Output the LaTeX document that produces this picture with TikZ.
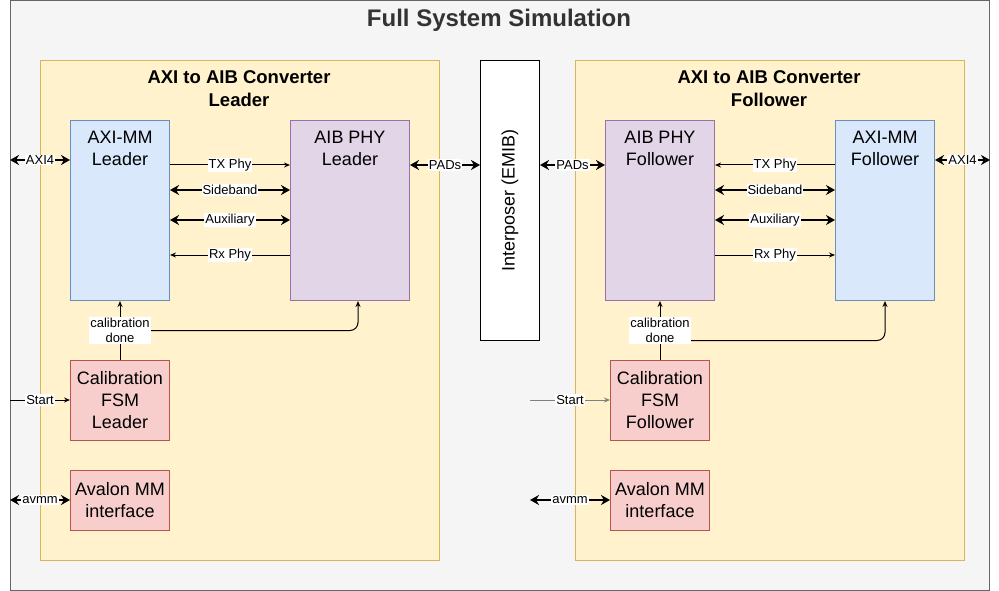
\documentclass[tikz,border=0pt]{standalone}
\usepackage{fontspec}
\setmainfont{Liberation Sans}
\usetikzlibrary{arrows.meta, positioning}
\definecolor{simfill}{HTML}{F5F5F5}
\definecolor{simdraw}{HTML}{666666}
\definecolor{convfill}{HTML}{FFF2CC}
\definecolor{convdraw}{HTML}{D6B656}
\definecolor{axifill}{HTML}{DAE8FC}
\definecolor{axidraw}{HTML}{6C8EBF}
\definecolor{phyfill}{HTML}{E1D5E7}
\definecolor{phydraw}{HTML}{9673A6}
\definecolor{calfill}{HTML}{F8CECC}
\definecolor{caldraw}{HTML}{B85450}
\definecolor{titlegray}{HTML}{333333}
\definecolor{startgray}{HTML}{808080}

\begin{document}
\begin{tikzpicture}[x=1pt, y=-1pt,
  box/.style={draw, line width=1pt, inner sep=0pt, anchor=north west},
  boxtext/.style={align=center, inner sep=0pt, font=\fontsize{18}{22}\selectfont},
  lbl/.style={fill=white, inner sep=1pt, align=center, font=\fontsize{13}{15.5}\selectfont},
  thin/.style={-{Stealth[length=6pt,width=5pt]}, line width=1pt},
  bidir/.style={{Stealth[length=9pt,width=10pt]}-{Stealth[length=9pt,width=10pt]}, line width=1.8pt}]
  \useasboundingbox (0,0) rectangle (999,591);

  % Outer frame and title
  \node[box, fill=simfill, draw=simdraw, minimum width=979pt, minimum height=590pt] (sim) at (10,0) {};
  \node[text=titlegray, font=\fontsize{24}{29}\selectfont\bfseries] (title) at (499,20) {Full System Simulation};

  % Converter blocks
  \node[box, fill=convfill, draw=convdraw, minimum width=399pt, minimum height=500pt] (convl) at (40,60) {};
  \node[box, fill=convfill, draw=convdraw, minimum width=389pt, minimum height=500pt] (convf) at (575,60) {};
  \node[align=center, font=\fontsize{18.5}{23}\selectfont\bfseries] (convltxt) at (239,88.5) {AXI to AIB Converter\\Leader};
  \node[align=center, font=\fontsize{18.5}{23}\selectfont\bfseries] (convftxt) at (769,88.5) {AXI to AIB Converter\\Follower};

  % Interposer
  \node[box, fill=white, draw=black, minimum width=59pt, minimum height=280pt] (emib) at (480,60) {};
  \node[boxtext, rotate=90] (emibtxt) at (emib.center) {Interposer (EMIB)};

  % Leader side
  \node[box, fill=axifill, draw=axidraw, minimum width=99pt, minimum height=180pt] (axil) at (70,120) {};
  \node[boxtext] (axiltxt) at ([yshift=-28pt]axil.north) {AXI-MM\\Leader};
  \node[box, fill=phyfill, draw=phydraw, minimum width=119pt, minimum height=180pt] (phyl) at (290,120) {};
  \node[boxtext] (phyltxt) at ([yshift=-28pt]phyl.north) {AIB PHY\\Leader};
  \node[box, fill=calfill, draw=caldraw, minimum width=99pt, minimum height=80pt] (calfl) at (70,360) {};
  \node[boxtext] (calfltxt) at (calfl.center) {Calibration\\FSM\\Leader};
  \node[box, fill=calfill, draw=caldraw, minimum width=99pt, minimum height=60pt] (avml) at (70,470) {};
  \node[boxtext] (avmltxt) at (avml.center) {Avalon MM\\interface};

  % Follower side
  \node[box, fill=phyfill, draw=phydraw, minimum width=109pt, minimum height=180pt] (phyf) at (605,120) {};
  \node[boxtext] (phyftxt) at ([yshift=-28pt]phyf.north) {AIB PHY\\Follower};
  \node[box, fill=axifill, draw=axidraw, minimum width=99pt, minimum height=180pt] (axif) at (835,120) {};
  \node[boxtext] (axiftxt) at ([yshift=-28pt]axif.north) {AXI-MM\\Follower};
  \node[box, fill=calfill, draw=caldraw, minimum width=99pt, minimum height=80pt] (calff) at (610,360) {};
  \node[boxtext] (calfftxt) at (calff.center) {Calibration\\FSM\\Follower};
  \node[box, fill=calfill, draw=caldraw, minimum width=99pt, minimum height=60pt] (avmf) at (610,470) {};
  \node[boxtext] (avmftxt) at (avmf.center) {Avalon MM\\interface};

  % Signal levels
  \coordinate (yaxi) at (0,160);
  \coordinate (ytx) at (0,165);
  \coordinate (ysb) at (0,190);
  \coordinate (yaux) at (0,220);
  \coordinate (yrx) at (0,255);
  \coordinate (ystart) at (0,400);
  \coordinate (yavm) at (0,500);
  \coordinate (startf) at (530,400);
  \coordinate (avmmf) at (530,500);

  % Leader connections
  \draw[bidir] (sim.west |- yaxi) -- node[lbl] (axi4l) {AXI4} (axil.west |- yaxi);
  \draw[thin] (axil.east |- ytx) -- node[lbl] (txl) {TX Phy} (phyl.west |- ytx);
  \draw[bidir] (axil.east |- ysb) -- node[lbl] (sbl) {Sideband} (phyl.west |- ysb);
  \draw[bidir] (axil.east |- yaux) -- node[lbl] (auxl) {Auxiliary} (phyl.west |- yaux);
  \draw[thin] (phyl.west |- yrx) -- node[lbl] (rxl) {Rx Phy} (axil.east |- yrx);
  \draw[bidir] (phyl.east |- ytx) -- node[lbl] (padl) {PADs} (emib.west |- ytx);
  \draw[thin] (sim.west |- ystart) -- node[lbl] (startl) {Start} (calfl.west |- ystart);
  \draw[bidir] (sim.west |- yavm) -- node[lbl] (avmml) {avmm} (avml.west |- yavm);

  % Leader calibration done
  \coordinate (cpl) at ([xshift=8pt]phyl.south);
  \draw[thin] (calfl.north) -- node[lbl] (cdl) {calibration\\done} (axil.north |- axil.south);
  \draw[thin, rounded corners=8pt] (cdl.east) -- (cdl.east -| cpl) -- (cpl);

  % Follower connections
  \draw[bidir] (emib.east |- ytx) -- node[lbl] (padf) {PADs} (phyf.west |- ytx);
  \draw[thin] (axif.west |- ytx) -- node[lbl] (txf) {TX Phy} (phyf.east |- ytx);
  \draw[bidir] (phyf.east |- ysb) -- node[lbl] (sbf) {Sideband} (axif.west |- ysb);
  \draw[bidir] (phyf.east |- yaux) -- node[lbl] (auxf) {Auxiliary} (axif.west |- yaux);
  \draw[thin] (phyf.east |- yrx) -- node[lbl] (rxf) {Rx Phy} (axif.west |- yrx);
  \draw[bidir] (axif.east |- yaxi) -- node[lbl] (axi4f) {AXI4} (sim.east |- yaxi);
  \draw[thin, draw=startgray] (startf) -- node[lbl, text=black] (startftxt) {Start} (calff.west |- ystart);
  \draw[bidir] (avmmf) -- node[lbl] (avmmftxt) {avmm} (avmf.west |- yavm);

  % Follower calibration done
  \draw[thin] (calff.north) -- node[lbl] (cdf) {calibration\\done} (phyf.south -| calff.north);
  \coordinate (cdfout) at ([yshift=-10pt]cdf.east);
  \draw[thin, rounded corners=8pt] (cdfout) -- (cdfout -| axif.south) -- (axif.south);
\end{tikzpicture}
\end{document}
